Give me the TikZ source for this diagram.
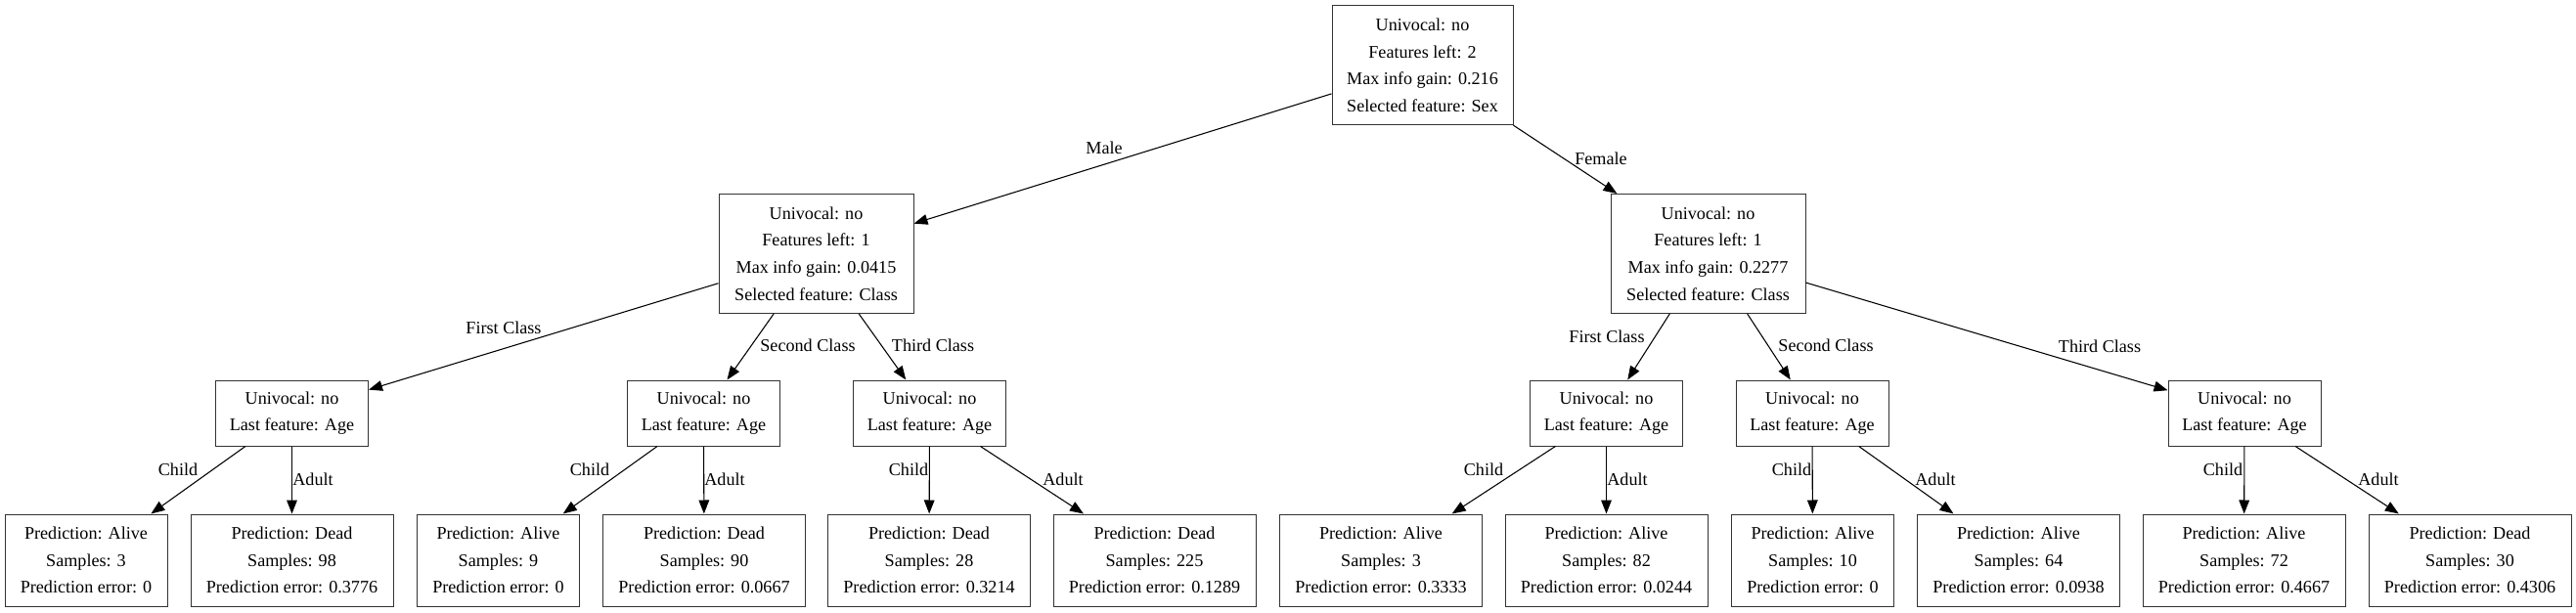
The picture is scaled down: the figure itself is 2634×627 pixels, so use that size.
\documentclass[tikz,border=0pt]{standalone}
\usepackage{fontspec}
\setmainfont{Liberation Serif}
\usetikzlibrary{arrows.meta}

\begin{document}
\begin{tikzpicture}
[
	                x = 0.75pt,
	                y = -0.75pt,
	             ->, >= {Triangle[length=10.5pt,width=8pt]},
	       line width = 0.8pt,
	             font = \fontsize{13.6}{20.7}\selectfont,
	  decision/.style = { draw=black!80, line width=0.75pt, rectangle, align=center, inner sep=0pt, minimum width=149.25pt, minimum height=91.5pt },
	   agenode/.style = { draw=black!80, line width=0.75pt, rectangle, align=center, inner sep=0pt, minimum width=117pt, minimum height=50.25pt },
	      leaf/.style = { draw=black!80, line width=0.75pt, rectangle, align=center, inner sep=0pt, minimum width=155.25pt, minimum height=70.5pt },
	narrowleaf/.style = { leaf, minimum width=124.5pt },
	 edgelabel/.style = { draw=none, fill=none, inner sep=0pt, anchor=center }
]

    \useasboundingbox (0,0) rectangle (2634,627);

    % root and sex split
    \node (Root)    at (1454.5, 67)   [decision, minimum width=138.75pt] {Univocal: no\\Features left: 2\\Max info gain: 0.216\\Selected feature: Sex};

    \node (Male)    at ( 834.5,259.5) [decision] {Univocal: no\\Features left: 1\\Max info gain: 0.0415\\Selected feature: Class};
    \node (Female)  at (1746.5,259.5) [decision] {Univocal: no\\Features left: 1\\Max info gain: 0.2277\\Selected feature: Class};

    \node (MaleLabel)   at (1129,151) [edgelabel] {Male};
    \node (FemaleLabel) at (1637,162) [edgelabel] {Female};

    \draw (Root) -- (Male);
    \draw (Root) -- (Female);

    % class split
    \node (MFirst)  at ( 298.5,422.5) [agenode] {Univocal: no\\Last feature: Age};
    \node (MSecond) at ( 719.5,422.5) [agenode] {Univocal: no\\Last feature: Age};
    \node (MThird)  at ( 950.5,422.5) [agenode] {Univocal: no\\Last feature: Age};
    \node (FFirst)  at (1642.5,422.5) [agenode] {Univocal: no\\Last feature: Age};
    \node (FSecond) at (1853  ,422.5) [agenode] {Univocal: no\\Last feature: Age};
    \node (FThird)  at (2295  ,422.5) [agenode] {Univocal: no\\Last feature: Age};

    \node (MFirstLabel)  at ( 515,335) [edgelabel] {First Class};
    \node (MSecondLabel) at ( 826,353) [edgelabel] {Second Class};
    \node (MThirdLabel)  at ( 954,353) [edgelabel] {Third Class};
    \node (FFirstLabel)  at (1643,344) [edgelabel] {First Class};
    \node (FSecondLabel) at (1867,353) [edgelabel] {Second Class};
    \node (FThirdLabel)  at (2147,354) [edgelabel] {Third Class};

    \draw (Male) -- (MFirst);
    \draw (Male) -- (MSecond);
    \draw (Male) -- (MThird);
    \draw (Female) -- (FFirst);
    \draw (Female) -- (FSecond);
    \draw (Female) -- (FThird);

    % age split, leaves
    \node (MFirstChild)  at (  88  ,573) [narrowleaf] {Prediction: Alive\\Samples: 3\\Prediction error: 0};
    \node (MFirstAdult)  at ( 298.5,573) [leaf]       {Prediction: Dead\\Samples: 98\\Prediction error: 0.3776};
    \node (MSecondChild) at ( 509.5,573) [narrowleaf] {Prediction: Alive\\Samples: 9\\Prediction error: 0};
    \node (MSecondAdult) at ( 720  ,573) [leaf]       {Prediction: Dead\\Samples: 90\\Prediction error: 0.0667};
    \node (MThirdChild)  at ( 950  ,573) [leaf]       {Prediction: Dead\\Samples: 28\\Prediction error: 0.3214};
    \node (MThirdAdult)  at (1180.5,573) [leaf]       {Prediction: Dead\\Samples: 225\\Prediction error: 0.1289};
    \node (FFirstChild)  at (1412  ,573) [leaf]       {Prediction: Alive\\Samples: 3\\Prediction error: 0.3333};
    \node (FFirstAdult)  at (1642.5,573) [leaf]       {Prediction: Alive\\Samples: 82\\Prediction error: 0.0244};
    \node (FSecondChild) at (1853.5,573) [narrowleaf] {Prediction: Alive\\Samples: 10\\Prediction error: 0};
    \node (FSecondAdult) at (2064  ,573) [leaf]       {Prediction: Alive\\Samples: 64\\Prediction error: 0.0938};
    \node (FThirdChild)  at (2294.5,573) [leaf]       {Prediction: Alive\\Samples: 72\\Prediction error: 0.4667};
    \node (FThirdAdult)  at (2525.5,573) [leaf]       {Prediction: Dead\\Samples: 30\\Prediction error: 0.4306};

    \node (MFirstChildLabel)  at ( 182,480) [edgelabel] {Child};
    \node (MFirstAdultLabel)  at ( 320,490) [edgelabel] {Adult};
    \node (MSecondChildLabel) at ( 603,480) [edgelabel] {Child};
    \node (MSecondAdultLabel) at ( 741,490) [edgelabel] {Adult};
    \node (MThirdChildLabel)  at ( 929,480) [edgelabel] {Child};
    \node (MThirdAdultLabel)  at (1087,490) [edgelabel] {Adult};
    \node (FFirstChildLabel)  at (1517,480) [edgelabel] {Child};
    \node (FFirstAdultLabel)  at (1664,490) [edgelabel] {Adult};
    \node (FSecondChildLabel) at (1832,480) [edgelabel] {Child};
    \node (FSecondAdultLabel) at (1979,490) [edgelabel] {Adult};
    \node (FThirdChildLabel)  at (2273,480) [edgelabel] {Child};
    \node (FThirdAdultLabel)  at (2432,490) [edgelabel] {Adult};

    \draw (MFirst) -- (MFirstChild);
    \draw (MFirst) -- (MFirstAdult);
    \draw (MSecond) -- (MSecondChild);
    \draw (MSecond) -- (MSecondAdult);
    \draw (MThird) -- (MThirdChild);
    \draw (MThird) -- (MThirdAdult);
    \draw (FFirst) -- (FFirstChild);
    \draw (FFirst) -- (FFirstAdult);
    \draw (FSecond) -- (FSecondChild);
    \draw (FSecond) -- (FSecondAdult);
    \draw (FThird) -- (FThirdChild);
    \draw (FThird) -- (FThirdAdult);

\end{tikzpicture}
\end{document}
